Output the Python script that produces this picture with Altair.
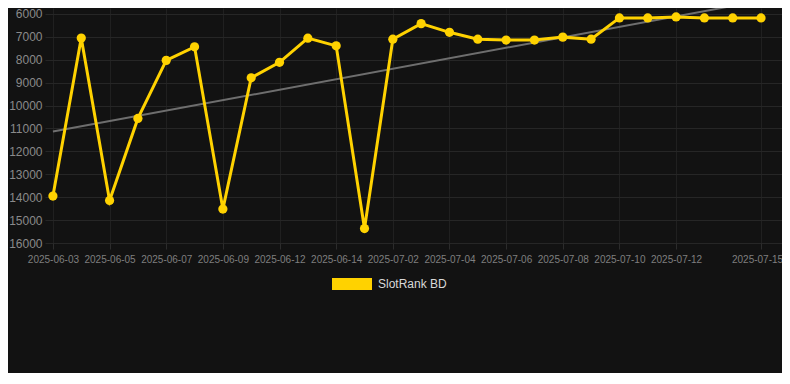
import altair as alt
import pandas as pd

dates = [
    "2025-06-03", "2025-06-04", "2025-06-05", "2025-06-06", "2025-06-07",
    "2025-06-08", "2025-06-09", "2025-06-10", "2025-06-12", "2025-06-13",
    "2025-06-14", "2025-06-15", "2025-07-02", "2025-07-03", "2025-07-04",
    "2025-07-05", "2025-07-06", "2025-07-07", "2025-07-08", "2025-07-09",
    "2025-07-10", "2025-07-11", "2025-07-12", "2025-07-13", "2025-07-14",
    "2025-07-15",
]
ranks = [
    13950, 7050, 14140, 10560, 8025, 7435, 14520, 8785, 8110, 7055,
    7390, 15370, 7100, 6420, 6800, 7100, 7140, 7140, 7010, 7100,
    6170, 6170, 6130, 6170, 6170, 6170,
]
series_name = "SlotRank BD"
label_idx = [0, 2, 4, 6, 8, 10, 12, 14, 16, 18, 20, 22, 25]
y_ticks = [6000, 7000, 8000, 9000, 10000, 11000, 12000, 13000, 14000, 15000, 16000]

df = pd.DataFrame({
    "idx": list(range(len(dates))),
    "date": dates,
    "rank": ranks,
    "series": [series_name] * len(dates),
})

label_expr = "[" + ",".join(f"'{d}'" for d in dates) + "][datum.value]"
last_idx = len(dates) - 1

FONT = "Liberation Sans"
YELLOW = "#FFD200"

x_enc = alt.X(
    "idx:Q",
    scale=alt.Scale(domain=[-0.28, 25.74], nice=False, zero=False),
    axis=alt.Axis(
        values=label_idx, labelExpr=label_expr, title=None, grid=True,
        ticks=True, tickSize=6, tickColor="#2c2c2c", domain=False,
        labelFontSize=10, labelColor="#7f7f7f", labelPadding=5,
        labelOffset={"condition": {"test": f"datum.value == {last_idx}", "value": -4}, "value": 0},
        gridColor="#202020", labelOverlap=False, labelFont=FONT,
    ),
)
y_enc = alt.Y(
    "rank:Q",
    scale=alt.Scale(domain=[5738, 16000], reverse=True, nice=False, zero=False),
    axis=alt.Axis(
        values=y_ticks, format="d", title=None, ticks=False, domain=False,
        labelFontSize=12, labelColor="#8a8a8a", labelPadding=3,
        gridColor="#262626", labelFont=FONT,
    ),
)

color_enc = alt.Color(
    "series:N",
    scale=alt.Scale(domain=[series_name], range=[YELLOW]),
    legend=alt.Legend(
        title=None, orient="none", legendX=287, legendY=256,
        symbolType="M-1,-0.3H1V0.3H-1Z", symbolSize=1600,
        symbolStrokeWidth=0, symbolFillColor=YELLOW, symbolOpacity=1,
        labelFontSize=12, labelColor="#d9d9d9", labelFont=FONT,
        labelOffset=6, padding=0,
    ),
)

base = alt.Chart(df)

trend = base.transform_regression("idx", "rank").mark_line(
    color="#6e6e6e", strokeWidth=2, clip=True
).encode(x=x_enc, y=y_enc)

line = base.mark_line(strokeWidth=3).encode(x=x_enc, y=y_enc, color=color_enc)
pts = base.mark_circle(size=85, opacity=1).encode(x=x_enc, y=y_enc, color=color_enc)

chart = alt.layer(trend, line, pts).properties(
    width=737,
    height=235,
    autosize=alt.AutoSizeParams(type="none"),
    padding={"left": 37, "top": 0, "right": 0, "bottom": 130},
    background="#121212",
).configure_view(stroke=None)

chart.save("out.html", embed_options={"renderer": "svg", "actions": False})
